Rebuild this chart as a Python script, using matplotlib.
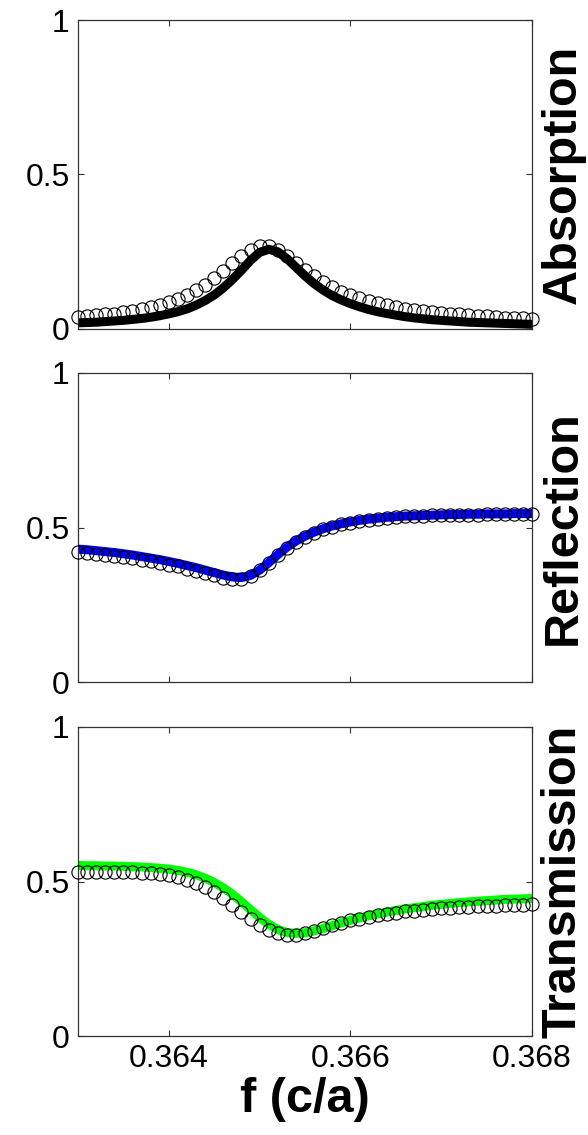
import matplotlib
matplotlib.use('Agg')
import matplotlib.pyplot as plt
import numpy as np

plt.rcParams['font.family'] = ['Liberation Sans', 'DejaVu Sans']

# frequency grid (c/a), 0.0001 step from 0.3630 to 0.3680
freq = np.round(np.arange(0.3630, 0.36805, 0.0001), 4)

# Absorption: measured (circles) and model (line)
abs_pts = [0.040, 0.042, 0.044, 0.047, 0.050, 0.054, 0.058, 0.064, 0.070, 0.078,
           0.087, 0.098, 0.111, 0.126, 0.144, 0.165, 0.188, 0.212, 0.236, 0.256,
           0.268, 0.267, 0.255, 0.236, 0.214, 0.191, 0.170, 0.151, 0.135, 0.121,
           0.109, 0.099, 0.090, 0.083, 0.077, 0.071, 0.066, 0.062, 0.058, 0.055,
           0.052, 0.049, 0.047, 0.045, 0.043, 0.041, 0.039, 0.037, 0.036, 0.034,
           0.033]
abs_line = [0.020, 0.021, 0.022, 0.024, 0.026, 0.028, 0.031, 0.034, 0.038, 0.043,
            0.049, 0.056, 0.065, 0.077, 0.092, 0.110, 0.133, 0.160, 0.190, 0.222,
            0.248, 0.258, 0.250, 0.228, 0.200, 0.172, 0.147, 0.126, 0.108, 0.094,
            0.082, 0.072, 0.063, 0.056, 0.050, 0.045, 0.040, 0.036, 0.033, 0.030,
            0.028, 0.026, 0.024, 0.022, 0.021, 0.020, 0.019, 0.018, 0.017, 0.016,
            0.015]

# Reflection
ref_pts = [0.420, 0.418, 0.415, 0.412, 0.409, 0.405, 0.401, 0.396, 0.391, 0.386,
           0.380, 0.374, 0.367, 0.360, 0.353, 0.345, 0.338, 0.333, 0.334, 0.344,
           0.362, 0.386, 0.411, 0.434, 0.454, 0.470, 0.483, 0.494, 0.503, 0.510,
           0.516, 0.521, 0.525, 0.529, 0.532, 0.534, 0.536, 0.537, 0.538, 0.539,
           0.540, 0.541, 0.541, 0.542, 0.542, 0.543, 0.543, 0.543, 0.544, 0.544,
           0.544]
ref_line = [0.430, 0.428, 0.425, 0.422, 0.419, 0.415, 0.411, 0.406, 0.401, 0.396,
            0.390, 0.384, 0.377, 0.370, 0.362, 0.354, 0.346, 0.340, 0.338, 0.345,
            0.362, 0.386, 0.412, 0.436, 0.456, 0.472, 0.485, 0.496, 0.505, 0.512,
            0.518, 0.523, 0.527, 0.530, 0.533, 0.535, 0.537, 0.538, 0.539, 0.540,
            0.541, 0.542, 0.542, 0.543, 0.543, 0.544, 0.544, 0.544, 0.545, 0.545,
            0.545]

# Transmission
tra_pts = [0.532, 0.532, 0.532, 0.532, 0.531, 0.531, 0.530, 0.529, 0.527, 0.524,
           0.520, 0.514, 0.506, 0.495, 0.482, 0.465, 0.446, 0.424, 0.401, 0.378,
           0.358, 0.342, 0.332, 0.327, 0.328, 0.333, 0.341, 0.350, 0.359, 0.367,
           0.374, 0.380, 0.386, 0.391, 0.395, 0.399, 0.403, 0.406, 0.409, 0.411,
           0.413, 0.415, 0.417, 0.419, 0.420, 0.421, 0.422, 0.423, 0.424, 0.425,
           0.426]
tra_line = [0.552, 0.551, 0.551, 0.550, 0.550, 0.549, 0.548, 0.547, 0.545, 0.543,
            0.540, 0.536, 0.530, 0.522, 0.511, 0.497, 0.480, 0.459, 0.435, 0.409,
            0.384, 0.362, 0.345, 0.335, 0.332, 0.334, 0.340, 0.348, 0.357, 0.366,
            0.374, 0.382, 0.389, 0.395, 0.401, 0.406, 0.411, 0.415, 0.419, 0.423,
            0.426, 0.429, 0.432, 0.434, 0.436, 0.438, 0.440, 0.442, 0.443, 0.444,
            0.445]

panels = [
    ('Absorption', abs_line, abs_pts, 'black'),
    ('Reflection', ref_line, ref_pts, '#0000ff'),
    ('Transmission', tra_line, tra_pts, '#00ff00'),
]

fig = plt.figure(figsize=(5.88, 11.35), dpi=100)

W, H = 588, 1135
left, width, height = 78 / W, 454 / W, 309 / H
bottoms_px = [329, 682, 1036]

for i, (name, line, pts, col) in enumerate(panels):
    ax = fig.add_axes([left, 1 - bottoms_px[i] / H, width, height])
    ax.plot(freq, line, '-', color=col, lw=6.5, solid_capstyle='butt', zorder=2)
    ax.plot(freq, pts, 'o', mfc='none', mec='black', ms=9.5, mew=0.8,
            clip_on=False, zorder=3)
    ax.set_xlim(0.363, 0.368)
    ax.set_ylim(0, 1)
    ax.set_yticks([0, 0.5, 1])
    ax.set_yticklabels(['0', '0.5', '1'])
    ax.set_xticks([0.364, 0.366, 0.368])
    ax.tick_params(direction='in', length=4, width=0.8, top=True, right=True,
                   labelsize=23, pad=6, colors='#333333', labelcolor='black')
    for sp in ax.spines.values():
        sp.set_color('#333333')
        sp.set_linewidth(0.9)
    ax.yaxis.set_label_position('right')
    ax.set_ylabel(name, fontsize=35, fontweight='bold', rotation=90, labelpad=6)
    if i < 2:
        ax.set_xticklabels([])
    else:
        ax.set_xticklabels(['0.364', '0.366', '0.368'])
        ax.set_xlabel('f (c/a)', fontsize=35, fontweight='bold', labelpad=2)

fig.savefig('out.png', dpi=100)
